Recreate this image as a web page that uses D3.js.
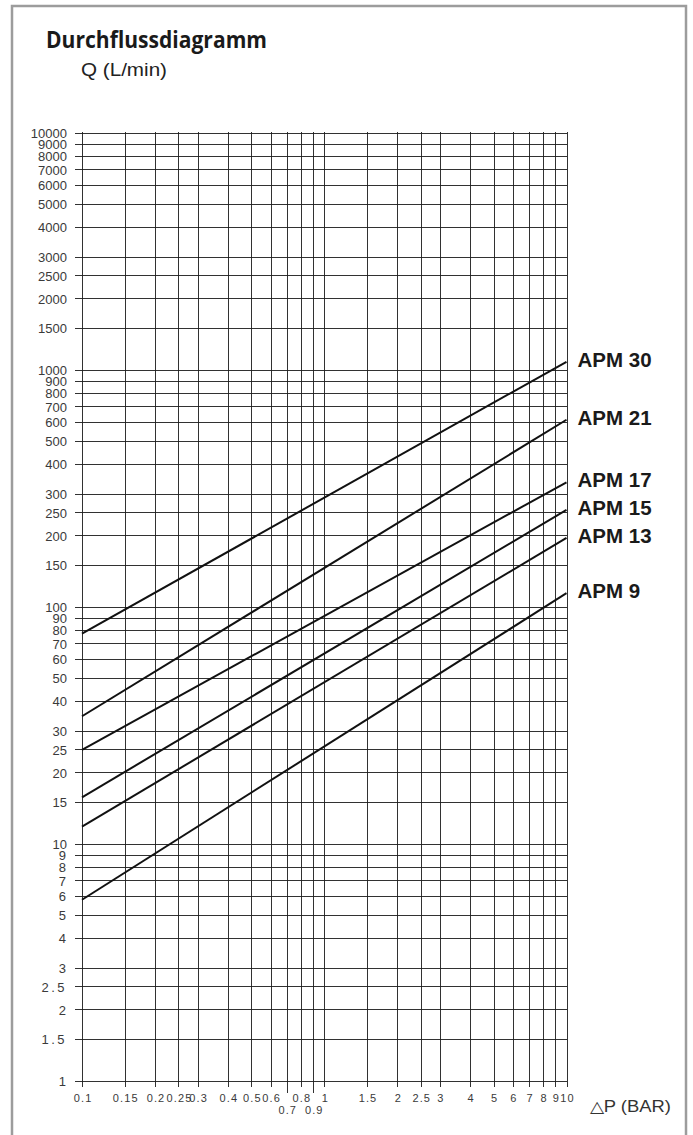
<!DOCTYPE html>
<html>
<head>
<meta charset="utf-8">
<script src="https://cdn.jsdelivr.net/npm/d3@7"></script>
<style>
  html, body { margin: 0; padding: 0; background: #fff; }
  svg { display: block; }
</style>
</head>
<body>
<svg id="chart" width="693" height="1135"></svg>
<script>
// ---- data ----
const xTicks = [0.1, 0.15, 0.2, 0.25, 0.3, 0.4, 0.5, 0.6, 0.7, 0.8, 0.9, 1, 1.5, 2, 2.5, 3, 4, 5, 6, 7, 8, 9, 10];
const xTickLabels = ["0.1", "0.15", "0.2", "0.25", "0.3", "0.4", "0.5", "0.6", "0.7", "0.8", "0.9", "1", "1.5", "2", "2.5", "3", "4", "5", "6", "7", "8", "9", "10"];
const xLowerRow = [0.7, 0.9];
const yTicks = [1, 1.5, 2, 2.5, 3, 4, 5, 6, 7, 8, 9, 10, 15, 20, 25, 30, 40, 50, 60, 70, 80, 90, 100, 150, 200, 250, 300, 400, 500, 600, 700, 800, 900, 1000, 1500, 2000, 2500, 3000, 4000, 5000, 6000, 7000, 8000, 9000, 10000];
const yTickLabels = ["1", "1.5", "2", "2.5", "3", "4", "5", "6", "7", "8", "9", "10", "15", "20", "25", "30", "40", "50", "60", "70", "80", "90", "100", "150", "200", "250", "300", "400", "500", "600", "700", "800", "900", "1000", "1500", "2000", "2500", "3000", "4000", "5000", "6000", "7000", "8000", "9000", "10000"];

const seriesNames = ["APM 30", "APM 21", "APM 17", "APM 15", "APM 13", "APM 9"];
const deltaP = [0.1, 10];
const apm30 = [77, 1080];
const apm21 = [34.5, 615];
const apm17 = [24.9, 335];
const apm15 = [15.7, 256];
const apm13 = [11.8, 195];
const apm9  = [5.8, 114];
const seriesValues = [apm30, apm21, apm17, apm15, apm13, apm9];

const titleText = "Durchflussdiagramm";
const yAxisTitle = "Q (L/min)";
const xAxisTitle = "\u25B3P  (BAR)";

// ---- layout ----
const svg = d3.select("#chart");
const W = 693, H = 1135;
const x = d3.scaleLog().domain([0.1, 10]).range([82, 566.5]);
const y = d3.scaleLog().domain([1, 10000]).range([1080.7, 132.7]);
const narrow = "'Liberation Sans Narrow', 'Arial Narrow', 'Liberation Sans', Arial, sans-serif";

svg.append("rect").attr("x", 0).attr("y", 0).attr("width", W).attr("height", H).attr("fill", "#fff");
// frame
svg.append("rect").attr("x", 12).attr("y", 6).attr("width", 674).attr("height", 1140)
  .attr("fill", "none").attr("stroke", "#9c9c9c").attr("stroke-width", 2.5);

// title
svg.append("text").attr("x", 46).attr("y", 48)
  .attr("font-family", "'Open Sans', 'Noto Sans', sans-serif").attr("font-weight", 700)
  .attr("font-size", 22.5).attr("fill", "#1a1a1a")
  .attr("textLength", 221).attr("lengthAdjust", "spacingAndGlyphs")
  .text(titleText);
svg.append("text").attr("x", 81).attr("y", 76)
  .attr("font-family", "'Liberation Sans', Arial, sans-serif")
  .attr("font-size", 19).attr("fill", "#222")
  .attr("textLength", 86).attr("lengthAdjust", "spacingAndGlyphs")
  .text(yAxisTitle);

// y axis (horizontal grid lines) using d3 axis
const yAxis = d3.axisLeft(y).tickValues(yTicks)
  .tickSize(-(x(10) - x(0.1)) - 7)
  .tickFormat((d, i) => yTickLabels[i]);
const gy = svg.append("g").attr("transform", `translate(${x(10)},0)`).call(yAxis);
gy.select(".domain").remove();
gy.selectAll(".tick line").attr("stroke", "#1c1c1c").attr("stroke-opacity", 0.9).attr("shape-rendering", "crispEdges")
  .attr("x1", 0).attr("x2", -(x(10) - 75));
gy.selectAll(".tick text")
  .attr("x", -(x(10) - 67)).attr("text-anchor", "end").attr("dy", "0.36em")
  .attr("font-family", narrow).attr("font-size", 13).attr("fill", "#3a3a3a")
  .attr("letter-spacing", d => (d === 1.5 || d === 2.5) ? 2.5 : (d < 10 ? 1 : 0));

// x axis (vertical grid lines)
const xLs = 1.1;
const xAxis = d3.axisBottom(x).tickValues(xTicks).tickSize(0)
  .tickFormat((d, i) => xTickLabels[i]);
const gx = svg.append("g").attr("transform", `translate(0,${y(1)})`).call(xAxis);
gx.select(".domain").remove();
gx.selectAll(".tick line").attr("stroke", "#1c1c1c").attr("stroke-opacity", 0.9).attr("shape-rendering", "crispEdges")
  .attr("y1", y(10000) - y(1) - 1)
  .attr("y2", d => xLowerRow.includes(d) ? 12 : 6);
gx.selectAll(".tick text")
  .attr("y", d => xLowerRow.includes(d) ? 29 : 17).attr("dy", "0.36em")
  .attr("dx", xLs / 2)
  .attr("font-family", narrow).attr("font-size", 11).attr("fill", "#3a3a3a")
  .attr("letter-spacing", xLs)
  .attr("text-anchor", "middle");

// x axis title
svg.append("text").attr("x", 590).attr("y", 1112)
  .attr("font-family", "'Liberation Sans', Arial, sans-serif").attr("font-size", 16).attr("fill", "#333")
  .attr("textLength", 81).attr("lengthAdjust", "spacingAndGlyphs")
  .text(xAxisTitle);

// series lines
const line = d3.line().x(d => x(d[0])).y(d => y(d[1]));
seriesValues.forEach((vals, i) => {
  const pts = deltaP.map((p, j) => [p, vals[j]]);
  svg.append("path").attr("d", line(pts)).attr("fill", "none")
    .attr("stroke", "#111").attr("stroke-width", 2);
  svg.append("text").attr("x", x(10) + 11).attr("y", y(vals[vals.length - 1]) + 5)
    .attr("font-family", "'Liberation Sans', Arial, sans-serif").attr("font-weight", 700)
    .attr("font-size", 20.5).attr("fill", "#1a1a1a")
    .text(seriesNames[i]);
});
</script>
</body>
</html>
